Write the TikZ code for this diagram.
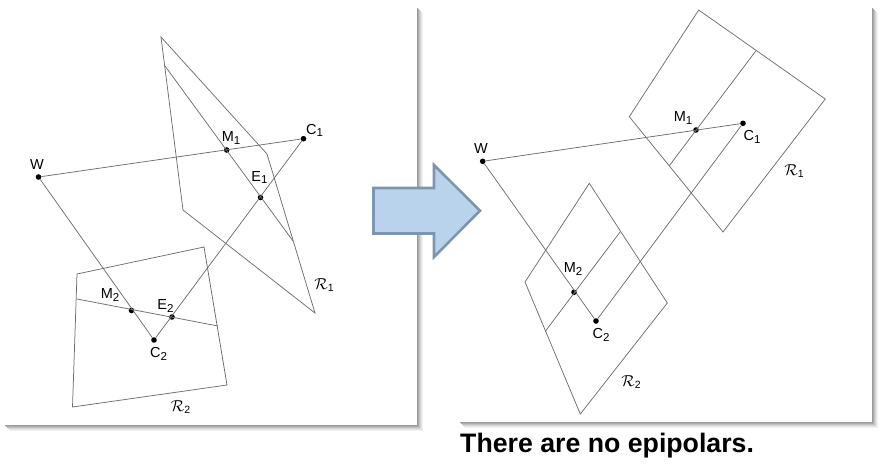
\documentclass[tikz,border=0pt]{standalone}
\usepackage{fontspec}
\setmainfont{Liberation Sans}
\definecolor{planecolor}{RGB}{110,110,110}
\definecolor{arrowfill}{RGB}{185,211,236}
\definecolor{arrowedge}{RGB}{125,150,175}
\tikzset{
  pointdot/.style = {circle, fill = black, inner sep = 0pt, minimum size = 5.6pt},
  plane/.style = {draw = planecolor, line width = 0.75pt, line join = miter},
  tag/.style = {inner sep = 0pt, font = \fontsize{14.5}{14.5}\selectfont}
}
\newcommand{\ptlabel}[2]{#1\raisebox{-0.35ex}{\fontsize{11.5}{11.5}\selectfont #2}}
\newcommand{\planelabel}[1]{\scalebox{1.1}{$\mathcal{R}$}\raisebox{-0.35ex}{\fontsize{10.5}{10.5}\selectfont #1}}
\begin{document}
\begin{tikzpicture}[x = 1pt, y = -1pt]
\useasboundingbox (0,0) rectangle (881,475);
% frames
\foreach \d/\g in {4.5/5,3.5/10,2.5/16,1.5/24,0.5/32,-0.5/40} {
  \draw[color = black!\g, line width = 1.1pt] (418+\d,8+\d) -- (418+\d,426+\d) -- (5+\d,426+\d);
  \draw[color = black!\g, line width = 1.1pt] (873+\d,8+\d) -- (873+\d,423+\d) -- (460+\d,423+\d);
}
% left
\draw[plane] (161,37) -- (267,154) -- (315,313) -- (183,210) -- cycle;
\draw[plane] (77,274) -- (204,247) -- (227,385) -- (72.5,407) -- cycle;
\coordinate (epiA) at (165,66);
\coordinate (epiB) at (293,241);
\coordinate (epiC) at (77,299);
\coordinate (epiD) at (218,326);
\node[pointdot] (W) at (38.5,177) {};
\node[pointdot] (C1) at (303.5,138.7) {};
\node[pointdot] (C2) at (154,340) {};
\node[pointdot] (M1) at (226.7,150) {};
\node[pointdot] (E1) at (260.5,197.5) {};
\node[pointdot] (M2) at (131.5,310.5) {};
\node[pointdot] (E2) at (172,317) {};
\draw[plane] (W) -- (C1);
\draw[plane] (W) -- (C2);
\draw[plane] (C1) -- (C2);
\draw[plane] (epiA) -- (epiB);
\draw[plane] (epiC) -- (epiD);
\node[tag] (tagW) at (37,165) {W};
\node[tag] (tagC1) at (314.5,130.5) {\ptlabel{C}{1}};
\node[tag] (tagM1) at (231,138) {\ptlabel{M}{1}};
\node[tag] (tagE1) at (259.5,177.5) {\ptlabel{E}{1}};
\node[tag] (tagM2) at (110,295) {\ptlabel{M}{2}};
\node[tag] (tagE2) at (165.5,306) {\ptlabel{E}{2}};
\node[tag] (tagC2) at (158.5,354) {\ptlabel{C}{2}};
\node[tag] (tagR1) at (324,285) {\planelabel{1}};
\node[tag] (tagR2) at (180.5,407) {\planelabel{2}};
% right
\draw[plane] (698.7,10) -- (825.3,99) -- (723,232) -- (629.3,116.7) -- cycle;
\draw[plane] (589.3,183.3) -- (667.3,303) -- (580.3,414) -- (525,282) -- cycle;
\coordinate (epiE) at (756,50.7);
\coordinate (epiF) at (669.3,165.7);
\coordinate (epiG) at (620.3,231.7);
\coordinate (epiH) at (545.3,331.3);
\node[pointdot] (rW) at (482.7,161.3) {};
\node[pointdot] (rC1) at (743,123.3) {};
\node[pointdot] (rC2) at (596,321) {};
\node[pointdot] (rM1) at (696,130) {};
\node[pointdot] (rM2) at (574,292.3) {};
\draw[plane] (rW) -- (rC1);
\draw[plane] (rW) -- (rC2);
\draw[plane] (rC1) -- (rC2);
\draw[plane] (epiE) -- (epiF);
\draw[plane] (epiG) -- (epiH);
\node[tag] (tagrW) at (481,149) {W};
\node[tag] (tagrC1) at (752,137) {\ptlabel{C}{1}};
\node[tag] (tagrM1) at (683,118) {\ptlabel{M}{1}};
\node[tag] (tagrM2) at (573,269) {\ptlabel{M}{2}};
\node[tag] (tagrC2) at (601,335) {\ptlabel{C}{2}};
\node[tag] (tagrR1) at (794,171) {\planelabel{1}};
\node[tag] (tagrR2) at (631,382) {\planelabel{2}};
% arrow
\draw[fill = arrowfill, draw = arrowedge, line width = 2.6pt, line join = miter]
  (373.5,188) -- (434,188) -- (434,165) -- (480,210.7) -- (434,257) -- (434,233.5) -- (373.5,233.5) -- cycle;
\node[inner sep = 0pt, anchor = base west, font = \fontsize{26.7}{26.7}\selectfont\bfseries] (caption) at (460,452) {There are no epipolars.};
\end{tikzpicture}
\end{document}
